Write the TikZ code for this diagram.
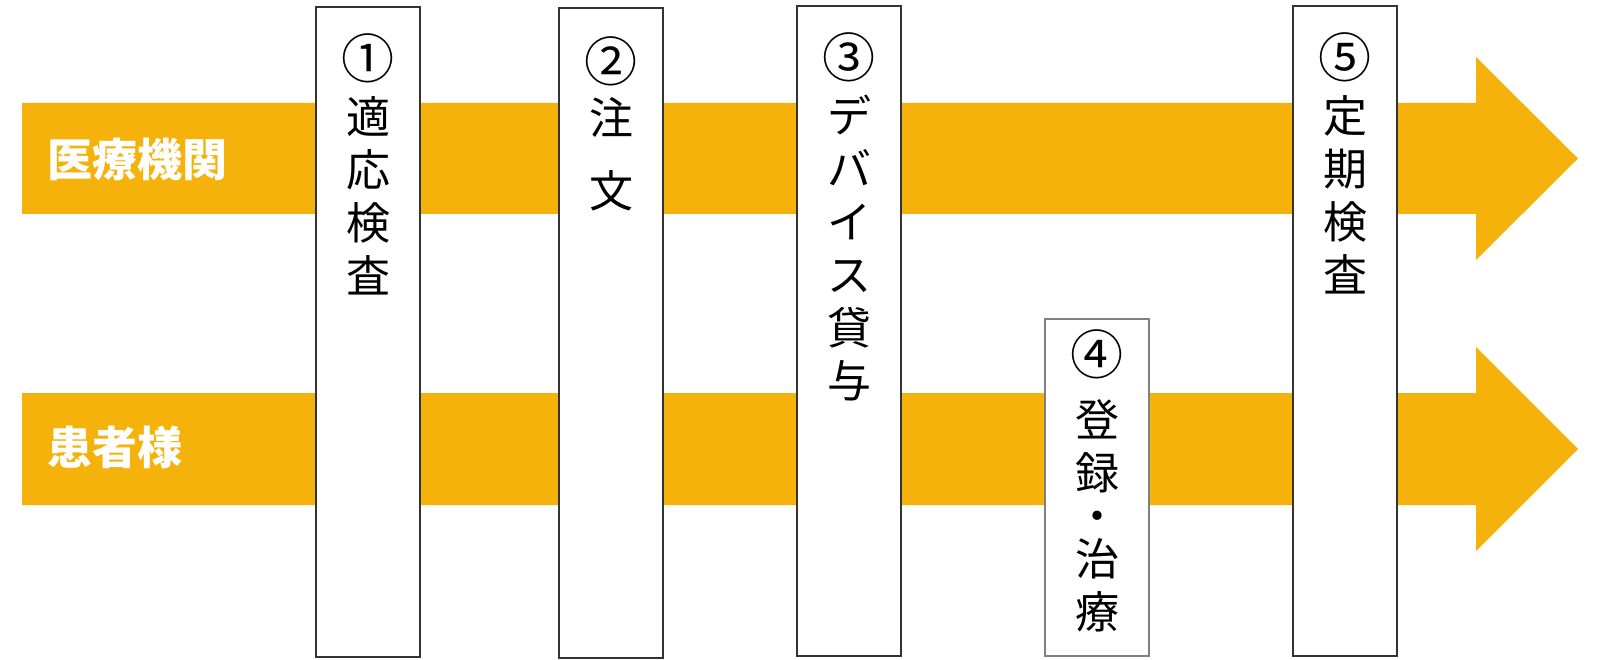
\documentclass[tikz,border=0pt]{standalone}
\usepackage{fontspec}
\usetikzlibrary{positioning}
\newfontfamily\jpfont{Noto Sans CJK JP}
\definecolor{bandorange}{HTML}{F5B20A}
\definecolor{boxline}{HTML}{333333}
\definecolor{boxgray}{HTML}{808080}
\newcommand{\stepno}[1]{{\fontsize{53}{53}\selectfont #1}}
\tikzstyle{band} = [fill=bandorange, draw=none]
\tikzstyle{stepbox} = [rectangle, draw=boxline, line width=2pt, fill=white, minimum width=104pt, minimum height=650pt, inner sep=0pt]
\tikzstyle{steptext} = [align=center, font=\jpfont\fontsize{44}{53}\selectfont, inner sep=0pt]
\tikzstyle{bandlabel} = [text=white, font=\jpfont\bfseries\fontsize{45}{45}\selectfont, anchor=west, inner sep=0pt]

\begin{document}
\begin{tikzpicture}[x=1pt,y=-1pt]
\useasboundingbox (0,0) rectangle (1600,660);

% two flows
\fill[band] (22,103) -- (1476,103) -- (1476,57) -- (1578,158.5) -- (1476,260) -- (1476,214) -- (22,214) -- cycle;
\fill[band] (22,393) -- (1476,393) -- (1476,347) -- (1578,449) -- (1476,551) -- (1476,505) -- (22,505) -- cycle;

\node (hosp) [bandlabel] at (47,159) {医療機関};
\node (patient) [bandlabel] at (47,447) {患者様};

% steps
\node (b1) [stepbox] at (368,332) {};
\node (b2) [stepbox] at (611,333) {};
\node (b3) [stepbox] at (849,331) {};
\node (b4) [stepbox, draw=boxgray, line width=1.5pt, minimum height=337pt] at (1097,487.5) {};
\node (b5) [stepbox] at (1345,331) {};

\node (t1) [steptext, below=27pt of b1.north] {\stepno{①}\\[2pt]適\\応\\検\\査};
\node (t2) [steptext, below=29pt of b2.north] {\stepno{②}\\[0pt]注\\[20pt]文};
\node (t3) [steptext, below=27pt of b3.north] {\stepno{③}\\[2pt]デ\\バ\\イ\\ス\\貸\\与};
\node (t4) [steptext, below=11pt of b4.north] {\stepno{④}\\[9pt]登\\録\\[-10pt]・\\[-10pt]治\\療};
\node (t5) [steptext, below=27pt of b5.north] {\stepno{⑤}\\[2pt]定\\期\\検\\査};

\end{tikzpicture}
\end{document}
